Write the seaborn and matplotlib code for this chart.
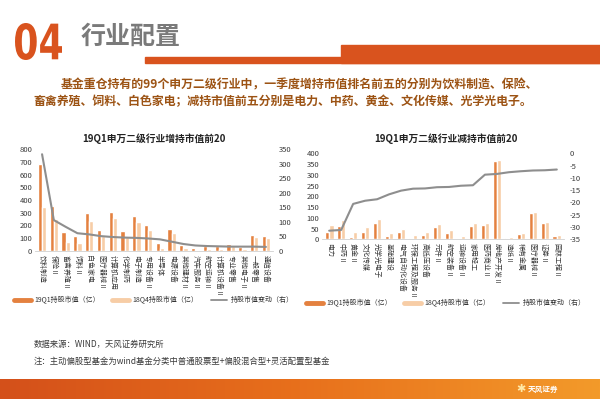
import numpy as np
import pandas as pd
import matplotlib
matplotlib.use("Agg")
import matplotlib.pyplot as plt
from matplotlib.patches import Rectangle, PathPatch
from matplotlib.lines import Line2D
from matplotlib.textpath import TextPath
from matplotlib.font_manager import FontProperties
from matplotlib.transforms import Affine2D
import seaborn as sns

# ---- data ----
inc_industries = ["饮料制造", "保险Ⅱ", "畜禽养殖Ⅱ", "饲料Ⅱ", "白色家电", "医疗器械Ⅱ", "计算机应用",
                  "化学制药", "电子制造", "专用设备Ⅱ", "半导体", "电源设备", "其他建材Ⅱ", "汽车服务Ⅱ",
                  "航空运输Ⅱ", "计算机设备Ⅱ", "专业零售", "其他电子Ⅱ", "一般零售", "通信设备"]
inc_q1 = [682, 356, 152, 120, 295, 167, 303, 157, 275, 204, 60, 175, 47, 26, 42, 42, 55, 34, 125, 118]
inc_q4 = [348, 250, 70, 60, 238, 118, 256, 111, 230, 161, 20, 143, 23, 8, 18, 16, 40, 19, 110, 104]
inc_change = [332, 106, 83, 61, 57, 51, 48, 46, 45, 43, 40, 32, 24, 19, 17, 16, 15, 15, 15, 14]

dec_industries = ["电力", "中药Ⅱ", "黄金Ⅱ", "文化传媒", "光学光电子", "基础建设", "电气自动化设备",
                  "环保工程及服务Ⅱ", "高低压设备", "元件Ⅱ", "航空装备Ⅱ", "运输设备Ⅱ", "家用轻工",
                  "医药商业Ⅱ", "房地产开发Ⅱ", "造纸Ⅱ", "稀有金属", "医疗器械Ⅱ", "证券Ⅱ", "园林工程Ⅱ"]
dec_q1 = [35, 60, 12, 36, 78, 15, 35, 4, 18, 57, 28, 3, 63, 67, 363, 5, 23, 121, 75, 15]
dec_q4 = [66, 91, 33, 55, 96, 31, 50, 18, 32, 71, 42, 16, 76, 76, 371, 13, 30, 128, 82, 22]
dec_change = [-31.5, -31.2, -20.6, -19.3, -18.7, -16.7, -15.2, -14.4, -14.3, -13.8, -13.7, -13.2,
              -13.0, -8.7, -8.4, -7.7, -7.3, -7.0, -6.9, -6.6]

series_names = ["19Q1持股市值（亿）", "18Q4持股市值（亿）", "持股市值变动（右）"]

ORANGE = "#D9531E"
BAR1 = "#E4813F"
BAR2 = "#F7CDA6"
GRAY = "#8E8E8E"
TEXT = "#3A3A3A"

sns.set_theme(style="white")
plt.rcParams['font.family'] = ['Noto Sans CJK SC', 'DejaVu Sans']
plt.rcParams['axes.unicode_minus'] = False

W, H = 600, 399
fig = plt.figure(figsize=(6, 3.99), dpi=100)
fig.patch.set_facecolor("white")


def fx(px):
    return px / W


def fy(py):
    return 1 - py / H


# header: a pixel-space overlay axes for the "04" glyphs (condensed look)
hax = fig.add_axes([0, 0, 1, 1], zorder=-1)
hax.set_xlim(0, W)
hax.set_ylim(H, 0)
hax.set_axis_off()
tp = TextPath((0, 0), "04", size=10, prop=FontProperties(family="DejaVu Sans", weight="bold"))
bb = tp.get_extents()
sx = (62 - 15) / bb.width
sy = (60 - 23) / bb.height
tr = Affine2D().translate(-bb.x0, -bb.y0).scale(sx, -sy).translate(15, 60)
hax.add_patch(PathPatch(tr.transform_path(tp), color=ORANGE, lw=0))

fig.text(fx(81), fy(37), "行业配置", fontsize=18, fontweight="bold", color="#7A7A7A",
         va="center", ha="left")
fig.patches.append(Rectangle((fx(145), fy(63)), 1 - fx(145), 6 / H, transform=fig.transFigure,
                             color=ORANGE, zorder=1))
fig.patches.append(Rectangle((fx(341), fy(63)), 1 - fx(341), 18 / H, transform=fig.transFigure,
                             color=ORANGE, zorder=1))

body = "#9C5314"
fig.text(fx(61), fy(85), "基金重仓持有的99个申万二级行业中，一季度增持市值排名前五的分别为饮料制造、保险、",
         fontsize=8.6, fontweight="bold", color=body, va="center", ha="left")
fig.text(fx(33), fy(102), "畜禽养殖、饲料、白色家电；减持市值前五分别是电力、中药、黄金、文化传媒、光学光电子。",
         fontsize=8.6, fontweight="bold", color=body, va="center", ha="left")


def draw_chart(rect, industries, q1, q4, change, ylim, y2lim, yticks, y2ticks, title, title_xy, legend_xy):
    ax = fig.add_axes(rect)
    df = pd.DataFrame({
        "industry": industries * 2,
        "series": [series_names[0]] * len(industries) + [series_names[1]] * len(industries),
        "value": q1 + q4,
    })
    sns.barplot(data=df, x="industry", y="value", hue="series", order=industries,
                palette=[BAR1, BAR2], width=0.72, ax=ax, legend=False, saturation=1)
    ax.set_xlabel("")
    ax.set_ylabel("")
    ax.set_ylim(*ylim)
    ax.set_yticks(yticks)
    ax.tick_params(axis="y", labelsize=5.5, colors=TEXT, length=0, pad=2)
    ax.set_xticks(range(len(industries)))
    ax.set_xticklabels(industries, rotation=-90, fontsize=5, color=TEXT, va="top", ha="center")
    ax.tick_params(axis="x", length=0, pad=3)
    for s in ["top", "right", "left"]:
        ax.spines[s].set_visible(False)
    ax.spines["bottom"].set_color("#D0D0D0")
    ax.spines["bottom"].set_linewidth(0.6)
    ax.set_facecolor("none")
    ax.set_xlim(-0.6, len(industries) - 0.4)

    ax2 = ax.twinx()
    sns.lineplot(x=np.arange(len(industries)), y=change, ax=ax2, color=GRAY, lw=1.5)
    ax2.set_ylim(*y2lim)
    ax2.set_yticks(y2ticks)
    ax2.tick_params(axis="y", labelsize=5.5, colors=TEXT, length=0, pad=4)
    ax2.set_ylabel("")
    for s in ax2.spines.values():
        s.set_visible(False)

    fig.text(fx(title_xy[0]), fy(title_xy[1]), title, fontsize=7, fontweight="bold",
             color="#222222", ha="center", va="center")

    handles = [Line2D([], [], color=BAR1, lw=3.5),
               Line2D([], [], color=BAR2, lw=3.5),
               Line2D([], [], color=GRAY, lw=1.3)]
    ax.legend(handles, series_names, loc="center", ncol=3, frameon=False, fontsize=5,
              bbox_to_anchor=(fx(legend_xy[0]), fy(legend_xy[1])), bbox_transform=fig.transFigure,
              handlelength=2.4, columnspacing=1.8, handletextpad=0.5, borderpad=0, borderaxespad=0,
              labelcolor="#333333")


draw_chart([fx(35), fy(251), fx(238), 102 / H], inc_industries, inc_q1, inc_q4, inc_change,
           (0, 800), (0, 350), range(0, 801, 100), range(0, 351, 50),
           "19Q1申万二级行业增持市值前20", (154, 139), (154, 300))

draw_chart([fx(322), fy(239.3), fx(242), 86 / H], dec_industries, dec_q1, dec_q4, dec_change,
           (0, 400), (-35, 0), range(0, 401, 50), range(-35, 1, 5),
           "19Q1申万二级行业减持市值前20", (446, 139), (446, 303))

# notes
fig.text(fx(34), fy(344), "数据来源：WIND，天风证券研究所", fontsize=6, color=TEXT, va="center", ha="left")
fig.text(fx(34), fy(361), "注：主动偏股型基金为wind基金分类中普通股票型+偏股混合型+灵活配置型基金",
         fontsize=6, color=TEXT, va="center", ha="left")

# footer band
fax = fig.add_axes([0, 0, 1, 20 / H])
grad = np.linspace(0, 1, 256).reshape(1, -1)
cmap = matplotlib.colors.LinearSegmentedColormap.from_list("band", ["#D4501A", "#E8701C", "#F39A2A"])
fax.imshow(grad, aspect="auto", cmap=cmap, extent=(0, 1, 0, 1))
fax.set_axis_off()
fig.text(fx(528), fy(389), "天风证券", fontsize=5.5, fontweight="bold", color="white", va="center", ha="left")
fig.text(fx(516), fy(389), "✱", fontsize=8, color="#FFE9A8", va="center", ha="left",
         family=['DejaVu Sans'])

fig.savefig("out.png", dpi=100)
